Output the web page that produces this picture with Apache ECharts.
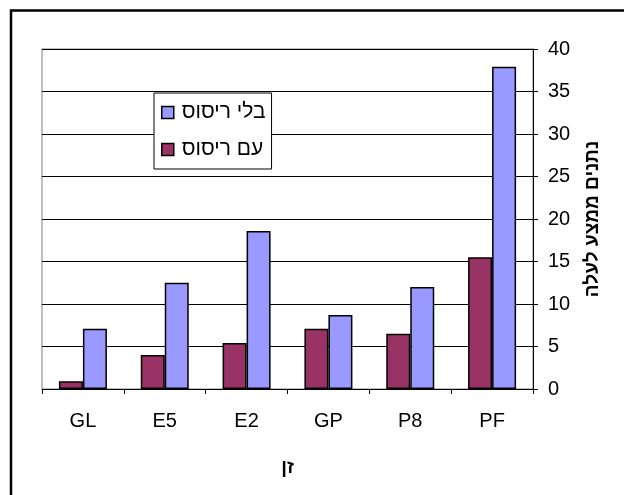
<!DOCTYPE html>
<html>
<head>
<meta charset="utf-8">
<script src="https://cdn.jsdelivr.net/npm/echarts@6/dist/echarts.min.js"></script>
<style>
  html, body { margin: 0; padding: 0; background: #fff; }
  #chart { width: 624px; height: 495px; }
</style>
</head>
<body>
<div id="chart"></div>
<script>
// Varieties along the x axis
const categories = ['GL', 'E5', 'E2', 'GP', 'P8', 'PF'];
// Series names
const nameSprayed = 'עם ריסוס';
const nameUnsprayed = 'בלי ריסוס';
// Values per variety
const sprayed = [0.9, 4.0, 5.4, 7.1, 6.5, 15.5];
const unsprayed = [7.1, 12.5, 18.6, 8.7, 12.0, 37.9];
// Value axis ticks
const yMin = 0, yMax = 40, yStep = 5;

const font = 'Arial, "Liberation Sans", sans-serif';
const chart = echarts.init(document.getElementById('chart'), null, { renderer: 'canvas' });

chart.setOption({
  animation: false,
  backgroundColor: '#ffffff',
  graphic: [{
    type: 'rect',
    shape: { x: 11, y: 10.5, width: 700, height: 600 },
    style: { fill: 'none', stroke: '#000', lineWidth: 2.5 },
    silent: true
  }],
  grid: {
    left: 42, right: 91, top: 49, bottom: 106,
    show: true, borderColor: '#808080', borderWidth: 1, backgroundColor: '#fff'
  },
  legend: {
    orient: 'vertical',
    left: 154, top: 93,
    data: [nameUnsprayed, nameSprayed],
    backgroundColor: '#fff',
    borderColor: '#000', borderWidth: 1,
    padding: [9, 6, 9, 7],
    itemGap: 16,
    itemWidth: 12, itemHeight: 12,
    icon: 'rect',
    itemStyle: { borderColor: '#000', borderWidth: 1.5 },
    textStyle: { fontFamily: font, fontSize: 21, color: '#000', padding: [0, 0, 0, 3] }
  },
  xAxis: {
    type: 'category',
    data: categories,
    name: 'זן',
    nameLocation: 'middle',
    nameGap: 69,
    nameTextStyle: { fontFamily: font, fontSize: 19, fontWeight: 'bold', color: '#000' },
    axisLine: { lineStyle: { color: '#000', width: 1 } },
    axisTick: { show: true, length: 5, lineStyle: { color: '#000' } },
    axisLabel: { fontFamily: font, fontSize: 20, color: '#000', margin: 22 }
  },
  yAxis: {
    type: 'value',
    position: 'right',
    min: yMin, max: yMax, interval: yStep,
    name: 'נתנים ממצע לעלה',
    nameLocation: 'middle',
    nameRotate: 90,
    nameGap: 50,
    nameTextStyle: { fontFamily: font, fontSize: 19, fontWeight: 'bold', color: '#000' },
    axisLine: { show: true, lineStyle: { color: '#000', width: 1 } },
    axisTick: { show: true, length: 5, lineStyle: { color: '#000' } },
    axisLabel: { fontFamily: font, fontSize: 20, color: '#000', margin: 15 },
    splitLine: { show: true, lineStyle: { color: '#000', width: 1 } }
  },
  series: [
    {
      name: nameSprayed,
      type: 'bar',
      data: sprayed,
      barWidth: 24,
      barGap: '0%',
      itemStyle: { color: '#993366', borderColor: '#000', borderWidth: 1.5 }
    },
    {
      name: nameUnsprayed,
      type: 'bar',
      data: unsprayed,
      barWidth: 24,
      barGap: '0%',
      itemStyle: { color: '#9999FF', borderColor: '#000', borderWidth: 1.5 }
    }
  ]
});
</script>
</body>
</html>
